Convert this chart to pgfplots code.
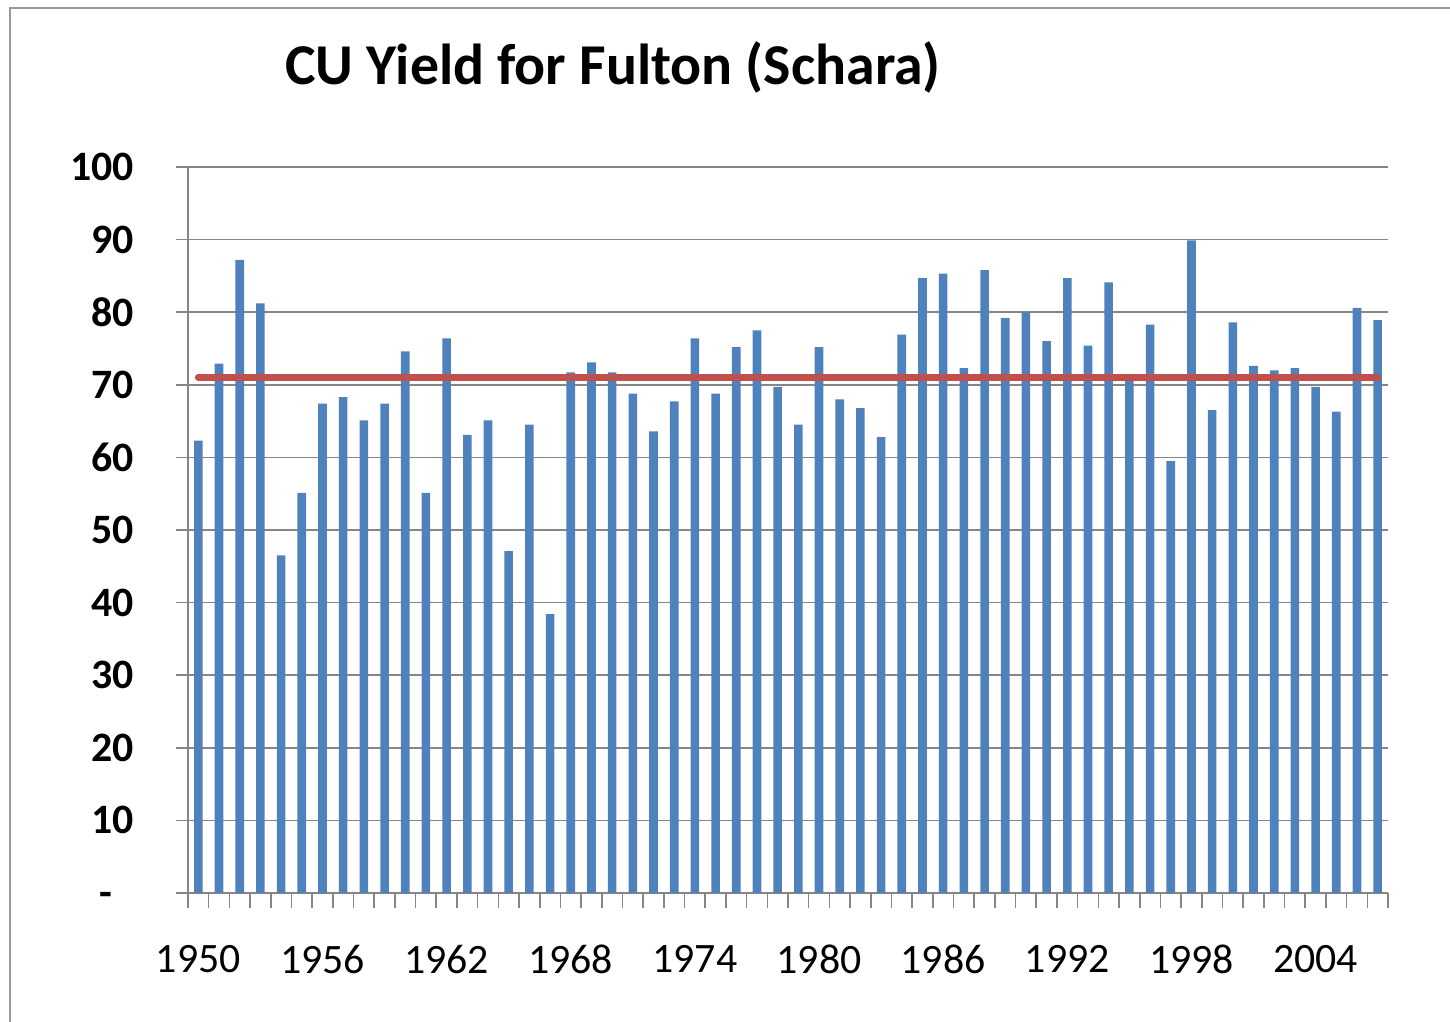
\documentclass[border=0pt]{standalone}
\usepackage{pgfplots}
\pgfplotsset{compat=1.18}
\usepackage{fontspec}
\setmainfont{Carlito}

\definecolor{barblue}{HTML}{4F81BD}
\definecolor{avgred}{HTML}{C0504D}
\definecolor{gridgray}{HTML}{868686}

\pgfplotstableread{
year value
1950 62.3
1951 72.9
1952 87.2
1953 81.2
1954 46.5
1955 55.1
1956 67.4
1957 68.3
1958 65.1
1959 67.4
1960 74.6
1961 55.1
1962 76.4
1963 63.1
1964 65.1
1965 47.1
1966 64.5
1967 38.4
1968 71.7
1969 73.1
1970 71.7
1971 68.8
1972 63.6
1973 67.7
1974 76.4
1975 68.8
1976 75.2
1977 77.5
1978 69.7
1979 64.5
1980 75.2
1981 68.0
1982 66.8
1983 62.8
1984 76.9
1985 84.7
1986 85.3
1987 72.3
1988 85.8
1989 79.2
1990 80.0
1991 76.0
1992 84.7
1993 75.4
1994 84.1
1995 70.5
1996 78.3
1997 59.5
1998 89.9
1999 66.5
2000 78.6
2001 72.6
2002 72.0
2003 72.3
2004 69.7
2005 66.3
2006 80.6
2007 78.9
}\yielddata

\begin{document}
\begin{tikzpicture}
\useasboundingbox (-94bp,-64.5bp) rectangle (631bp,446.5bp);
\begin{axis}[
    scale only axis,
    width=600bp, height=363bp,
    xmin=1949.5, xmax=2007.5,
    ymin=0, ymax=100,
    axis x line*=bottom, axis y line*=left,
    axis line style={gridgray, line width=1pt, -},
    ytick={0,10,...,100},
    yticklabels={-\phantom{0},10,20,30,40,50,60,70,80,90,100},
    ymajorgrids,
    grid style={gridgray, line width=0.8pt},
    xtick={1950,1956,...,2004},
    xticklabels={1950,1956,1962,1968,1974,1980,1986,1992,1998,2004},
    minor xtick={1949.5,1950.5,...,2007.5},
    tick align=outside,
    major tick length=6bp,
    minor tick length=7.5bp,
    major x tick style={draw=none},
    minor x tick style={gridgray, line width=0.8pt},
    major y tick style={gridgray, line width=0.8pt},
    yticklabel style={font=\bfseries\fontsize{21}{24}\selectfont, text=black, xshift=-17.5bp},
    xticklabel style={font=\fontsize{21}{24}\selectfont, text=black, yshift=-16.5bp},
    clip=false,
]
\addplot[ybar, bar width=4.3bp, fill=barblue, draw=none] table[x=year, y=value] {\yielddata};
\addplot[avgred, line width=3.5bp, line cap=round, mark=none] coordinates {(1950,71.0) (2007,71.0)};
\end{axis}
\node[font=\bfseries\fontsize{29}{33}\selectfont] at (212.5bp,413bp) {CU Yield for Fulton (Schara)};
\draw[gray!80, line width=1pt] (-89bp,-64.5bp) -- (-89bp,442.5bp) -- (631bp,442.5bp);
\end{tikzpicture}
\end{document}
